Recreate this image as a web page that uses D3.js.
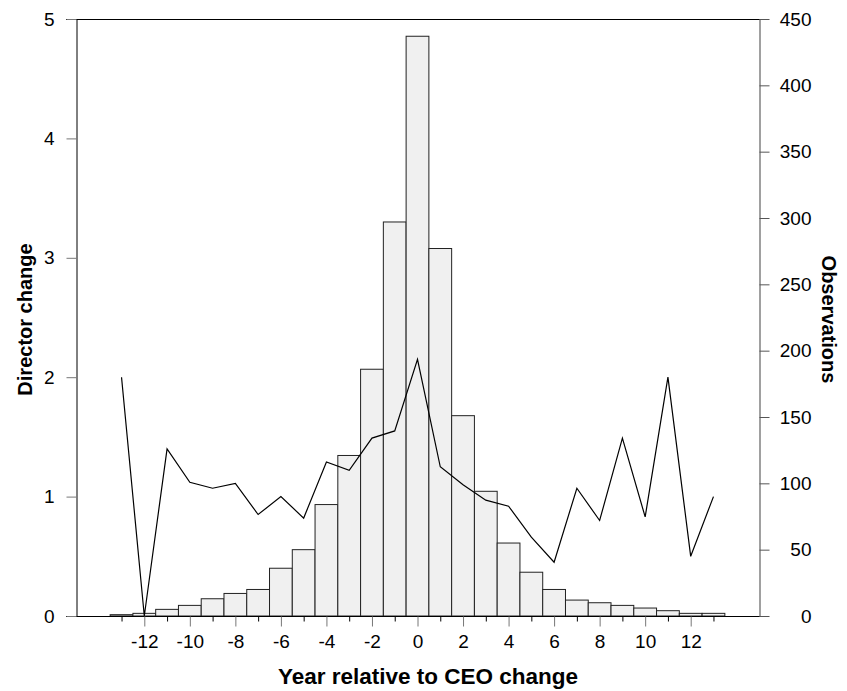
<!DOCTYPE html>
<meta charset="utf-8">
<style>
    body { margin: 0; background: #fff; }
    svg text { font-family: "Liberation Sans", Arial, sans-serif; fill: #000; }
    .tick text { font-size: 19px; }
    .title { font-size: 22.5px; font-weight: bold; }
    .ytitle { font-size: 20px; font-weight: bold; }
    .bar { fill: #f0f0f0; stroke: #222; stroke-width: 1px; }
    .line { fill: none; stroke: #000; stroke-width: 1.2px; }
</style>
<svg width="847" height="691"></svg>
<script src="https://cdn.jsdelivr.net/npm/d3@7"></script>
<script>

    // years relative to CEO change
    var years = [-13, -12, -11, -10, -9, -8, -7, -6, -5, -4, -3, -2, -1, 0,
        1, 2, 3, 4, 5, 6, 7, 8, 9, 10, 11, 12, 13];

    // number of observations (bars, right axis)
    var observations = [1, 2, 5, 8, 13, 17, 20, 36, 50, 84, 121, 186, 297, 437,
        277, 151, 94, 55, 33, 20, 12, 10, 8, 6, 4, 2, 2];

    // mean director change (line, left axis)
    var directorChange = [2.0, 0, 1.40, 1.12, 1.07, 1.11, 0.85, 1.0, 0.82, 1.29, 1.22, 1.49, 1.55, 2.15,
        1.25, 1.10, 0.97, 0.92, 0.66, 0.45, 1.07, 0.80, 1.49, 0.83, 2.0, 0.50, 1.0];

    var leftTicks = [0, 1, 2, 3, 4, 5];
    var rightTicks = [0, 50, 100, 150, 200, 250, 300, 350, 400, 450];
    var majorX = [-12, -10, -8, -6, -4, -2, 0, 2, 4, 6, 8, 10, 12];
    var minorX = [-13, -11, -9, -7, -5, -3, -1, 1, 3, 5, 7, 9, 11, 13];

    var svg = d3.select("svg"),
        mLeft = 76, mRight = 759, mTop = 19, mBottom = 616;

    var x = d3.scaleLinear().domain([-15, 15]).range([mLeft, mRight]);
    var yL = d3.scaleLinear().domain([0, 5]).range([mBottom, mTop]);
    var yR = d3.scaleLinear().domain([0, 450]).range([mBottom, mTop]);

    var plain = function (d) { return String(d); };

    // bars
    svg.append("g").selectAll("rect")
        .data(years)
        .enter().append("rect")
        .attr("class", "bar")
        .attr("x", function (d) { return x(d - 0.5); })
        .attr("width", x(1) - x(0))
        .attr("y", function (d, i) { return yR(observations[i]); })
        .attr("height", function (d, i) { return mBottom - yR(observations[i]); });

    // line
    var line = d3.line()
        .x(function (d) { return x(d); })
        .y(function (d, i) { return yL(directorChange[i]); });

    svg.append("path")
        .datum(years)
        .attr("class", "line")
        .attr("d", line);

    // frame lines top / bottom
    svg.append("line").attr("x1", mLeft - 10).attr("x2", mRight + 10)
        .attr("y1", mTop + 0.5).attr("y2", mTop + 0.5).attr("stroke", "#000");
    svg.append("line").attr("x1", mLeft - 10).attr("x2", mRight + 10)
        .attr("y1", mBottom + 0.5).attr("y2", mBottom + 0.5).attr("stroke", "#000");

    // left axis
    var gl = svg.append("g")
        .attr("transform", "translate(" + (mLeft + 0.5) + ",0)")
        .call(d3.axisLeft(yL).tickValues(leftTicks).tickFormat(plain)
            .tickSize(10).tickPadding(12).tickSizeOuter(0));
    gl.select(".domain").attr("stroke", "#000");
    gl.selectAll(".tick line").attr("stroke", "#777");

    // right axis
    var gr = svg.append("g")
        .attr("transform", "translate(" + (mRight + 0.5) + ",0)")
        .call(d3.axisRight(yR).tickValues(rightTicks).tickFormat(plain)
            .tickSize(10).tickPadding(10).tickSizeOuter(0));
    gr.select(".domain").attr("stroke", "#808080").attr("stroke-width", 1.5);
    gr.selectAll(".tick line").attr("stroke", "#555");
    gr.selectAll(".tick text").attr("text-anchor", "end").attr("x", 52);

    // x axis
    var gx = svg.append("g")
        .attr("transform", "translate(0," + (mBottom + 0.5) + ")")
        .call(d3.axisBottom(x).tickValues(majorX).tickFormat(plain)
            .tickSize(10).tickPadding(8).tickSizeOuter(0));
    gx.select(".domain").remove();
    gx.selectAll(".tick line").attr("stroke", "#777");

    svg.append("g")
        .attr("transform", "translate(0," + (mBottom + 0.5) + ")")
        .selectAll("line")
        .data(minorX)
        .enter().append("line")
        .attr("x1", function (d) { return x(d) + 0.5; })
        .attr("x2", function (d) { return x(d) + 0.5; })
        .attr("y1", 0).attr("y2", 5)
        .attr("stroke", "#000");

    // titles
    svg.append("text")
        .attr("class", "title")
        .attr("x", 428)
        .attr("y", 684)
        .attr("text-anchor", "middle")
        .text("Year relative to CEO change");

    svg.append("text")
        .attr("class", "ytitle")
        .attr("transform", "translate(32," + ((mTop + mBottom) / 2 + 2) + ") rotate(-90)")
        .attr("text-anchor", "middle")
        .text("Director change");

    svg.append("text")
        .attr("class", "ytitle")
        .attr("transform", "translate(822," + ((mTop + mBottom) / 2 + 2) + ") rotate(90)")
        .attr("text-anchor", "middle")
        .text("Observations");

</script>
